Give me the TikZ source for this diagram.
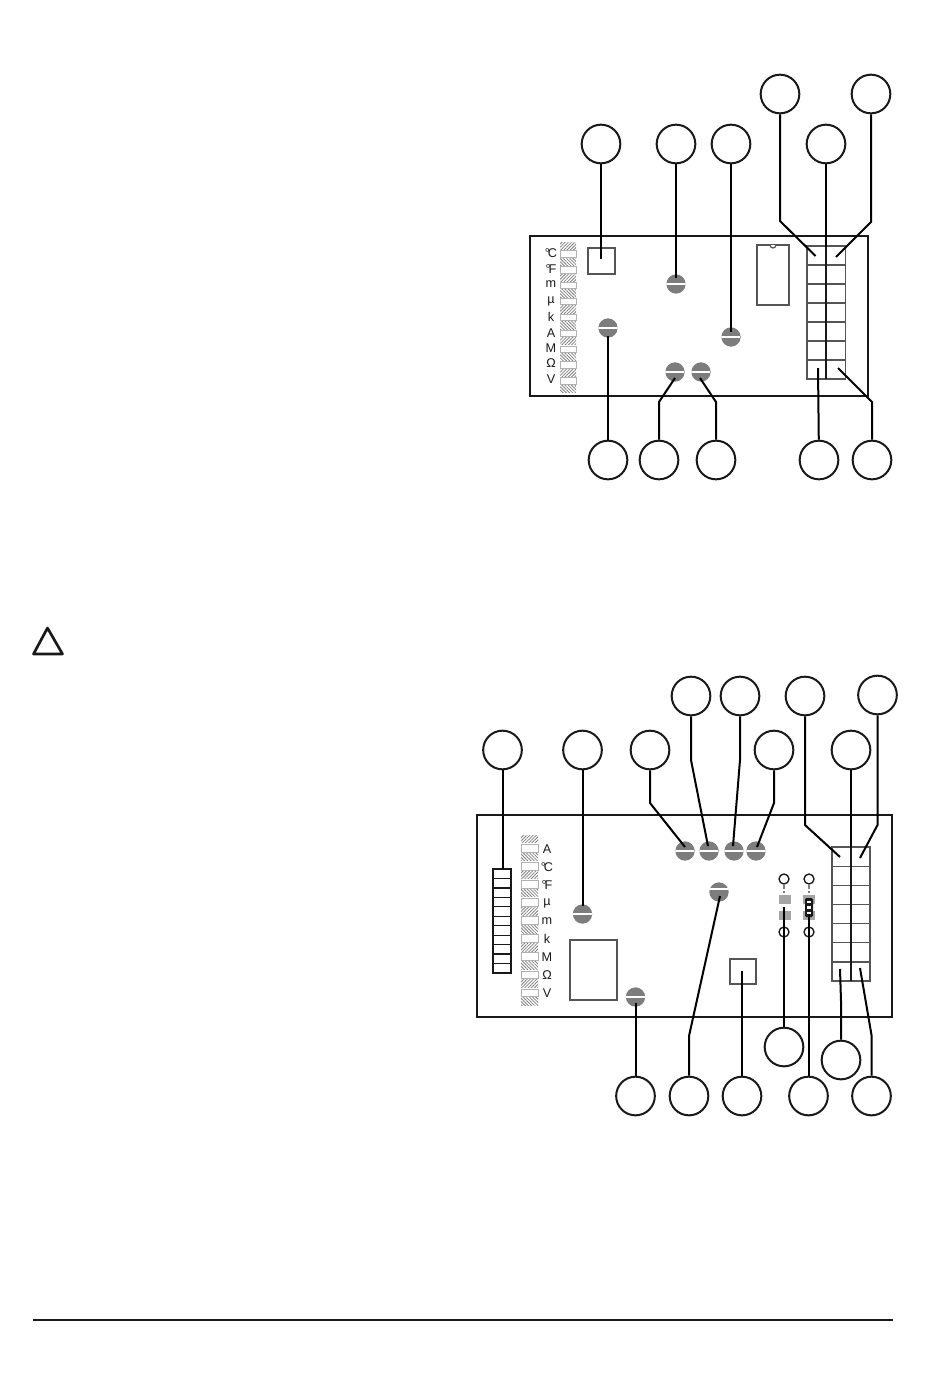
\documentclass[tikz,border=0pt]{standalone}
\usepackage{fontspec}
\setmainfont{Liberation Sans}
\usetikzlibrary{calc}
\usetikzlibrary{patterns.meta}
\definecolor{screwgray}{RGB}{125, 125, 125}
\definecolor{pad1}{RGB}{165, 165, 165}
\definecolor{grid1}{RGB}{85, 85, 85}
\definecolor{ink1}{RGB}{25, 25, 25}
\tikzset{
  callout/.style={circle,draw=ink1,fill=white,line width=1.5pt,minimum size=29pt,inner sep=0pt},
  screw/.style={circle,fill=screwgray,minimum size=14.5pt,inner sep=0pt,
    path picture={\draw[white,line width=1.3pt] ([yshift=#1]path picture bounding box.west)
      -- ([yshift=#1]path picture bounding box.east);}},
  screw/.default=0pt,
  unit/.style={inner sep=0pt,text=ink1,font=\fontsize{9.5}{9.5}\selectfont},
  lead/.style={draw=black,line width=1.5pt},
  board/.style={draw=ink1,line width=1.3pt},
  part/.style={draw=grid1,line width=.9pt},
  cell/.style={draw=grid1,line width=.9pt},
  midline/.style={draw=ink1,line width=1.1pt},
  blank/.style={draw=black!30,fill=white,line width=.5pt},
  hatcha/.style={pattern={Lines[angle=45,distance=1.7pt,line width=.6pt]},pattern color=black!50},
  hatchb/.style={pattern={Lines[angle=-45,distance=1.7pt,line width=.6pt]},pattern color=black!50},
  ring/.style={circle,draw=ink1,fill=white,line width=1pt,minimum size=7.5pt,inner sep=0pt},
}
\begin{document}
\begin{tikzpicture}[x=.75pt,y=-.75pt,line width=1pt]
  \useasboundingbox (0,0) rectangle (950,1378);
  % warning sign and foot rule
  \draw[draw=ink1,line width=2pt,line join=round] (47.5,628) -- (33.5,654) -- (62.5,654) -- cycle;
  \coordinate (ruleL) at (33,1320);
  \coordinate (ruleR) at (893,1320);
  \draw[draw=ink1,line width=1.3pt] (ruleL) -- (ruleR);

  % upper board
  \draw[board] (530,236) rectangle (868,396);
  \draw[part] (588,248) rectangle (615,274);
  \draw[part] (757,245) rectangle (789,305);
  \draw[part,fill=white] (770,245) arc (180:0:3 and 3);
  \foreach \i in {0,2,...,8}
    \path[hatcha] (560,242+15.9*\i) rectangle (576,249.5+15.9*\i);
  \foreach \i in {1,3,...,9}
    \path[hatchb] (560,242+15.9*\i) rectangle (576,249.5+15.9*\i);
  \foreach \i in {0,...,8}
    \draw[blank] (560,250.5+15.9*\i) rectangle (576,257+15.9*\i);
  \foreach \txt/\y [count=\i] in {°\kern-1.5pt C/253,°\kern-1.5pt F/269,m/284,µ/301,k/317,A/333,M/348,Ω/363,V/379}
    \node[unit] (ua\i) at (551,\y) {\txt};
  \foreach \i in {0,...,6} {
    \draw[cell] (807,246+19*\i) rectangle (826,265+19*\i);
    \draw[cell] (826,246+19*\i) rectangle (845.5,265+19*\i);
  }
  \draw[midline] (826,246) -- (826,379);
  \node[screw] (sa1) at (676,284) {};
  \node[screw] (sa2) at (731,337) {};
  \node[screw] (sa3) at (608,328) {};
  \node[screw] (sa4) at (675,372) {};
  \node[screw] (sa5) at (701,372) {};

  \node[callout] (ca1) at (780,94) {};
  \node[callout] (ca2) at (871,94) {};
  \node[callout] (ca3) at (601,144) {};
  \node[callout] (ca4) at (676,144) {};
  \node[callout] (ca5) at (731,144) {};
  \node[callout] (ca6) at (826,144) {};
  \node[callout] (ca7) at (608,460) {};
  \node[callout] (ca8) at (659,460) {};
  \node[callout] (ca9) at (716,460) {};
  \node[callout] (ca10) at (819,460) {};
  \node[callout] (ca11) at (872,460) {};

  \foreach \name/\x/\y in {ea1/815.5/256,va1/780/221,ea2/836/257,va2/871/222,ea3/601/259,ea4/676/278,ea5/731/332,
      ea6/826/247,ea7/608/336,ea8/675/378,va8/659/402,ea9/700/378,va9/716/402,ea10/818/368,ea11/838/368,va11/872/402}
    \coordinate (\name) at (\x,\y);
  \foreach \from/\to in {ca3/ea3, ca4/ea4, ca5/ea5, ca6/ea6, ca7/ea7, ca10/ea10}
    \draw[lead] (\from) -- (\to);
  \foreach \from/\via/\to in {ca1/va1/ea1, ca2/va2/ea2, ca8/va8/ea8, ca9/va9/ea9, ca11/va11/ea11}
    \draw[lead] (\from) -- (\via) -- (\to);

  % lower board
  \draw[board] (477,815) rectangle (892,1017);
  \draw[part] (570,940) rectangle (617,1000);
  \draw[part] (730,959) rectangle (756,984);
  \foreach \i in {0,...,10}
    \draw[draw=ink1,line width=.9pt] (493,869+9.45*\i) rectangle (511,878.45+9.45*\i);
  \foreach \i in {0,2,...,8}
    \path[hatcha] (521,835+18.05*\i) rectangle (538,842.8+18.05*\i);
  \foreach \i in {1,3,...,9}
    \path[hatchb] (521,835+18.05*\i) rectangle (538,842.8+18.05*\i);
  \foreach \i in {0,...,8}
    \draw[blank] (521,844.5+18.05*\i) rectangle (538,852+18.05*\i);
  \foreach \txt/\y [count=\i] in {A/849,°\kern-1.5pt C/867,°\kern-1.5pt F/885,µ/903,m/921,k/939,M/957,Ω/975,V/993}
    \node[unit] (ub\i) at (547,\y) {\txt};
  \foreach \i in {0,...,6} {
    \draw[cell] (832,847+19.15*\i) rectangle (851,866.15+19.15*\i);
    \draw[cell] (851,847+19.15*\i) rectangle (870,866.15+19.15*\i);
  }
  \draw[midline] (851,847) -- (851,981);
  \node[screw] (sb1) at (582.5,914) {};
  \node[screw] (sb2) at (635.5,997) {};
  \node[screw] (sb3) at (685,851) {};
  \node[screw] (sb4) at (709,851) {};
  \node[screw] (sb5) at (734,851) {};
  \node[screw] (sb6) at (756,851) {};
  \node[screw=2.5pt] (sb7) at (719,892) {};

  % jumpers
  \fill[pad1] (778.5,895) rectangle (791,904);
  \fill[pad1] (778.5,911) rectangle (791,919.5);
  \fill[pad1] (803,895) rectangle (815,904);
  \fill[pad1] (803,911) rectangle (815,919.5);
  \fill[ink1,rounded corners=1pt] (805,898) rectangle (813,917);
  \foreach \y in {902,907.5,913}
    \fill[white] (807,\y-1.4) rectangle (811,\y+1.4);
  \node[ring] (rb1) at (784,879) {};
  \node[ring] (rb2) at (809,879) {};
  \node[ring] (rb3) at (784,932) {};
  \node[ring] (rb4) at (809,932) {};
  \coordinate (pb1) at (784,893);
  \coordinate (pb2) at (809,893);
  \foreach \from/\to in {rb1/pb1, rb2/pb2}
    \draw[draw=black!50,densely dashed,line width=.8pt] (\from) -- (\to);

  \node[callout] (cb1) at (691,696) {};
  \node[callout] (cb2) at (740,696) {};
  \node[callout] (cb3) at (805,696) {};
  \node[callout] (cb4) at (877.5,695) {};
  \node[callout] (cb5) at (502.5,750) {};
  \node[callout] (cb6) at (582.5,750) {};
  \node[callout] (cb7) at (650,750) {};
  \node[callout] (cb8) at (774,750) {};
  \node[callout] (cb9) at (851,750) {};
  \node[callout] (cb10) at (784,1047) {};
  \node[callout] (cb11) at (841,1060) {};
  \node[callout] (cb12) at (635.5,1096) {};
  \node[callout] (cb13) at (689,1096) {};
  \node[callout] (cb14) at (742,1096) {};
  \node[callout] (cb15) at (808.5,1096) {};
  \node[callout] (cb16) at (871.5,1096) {};

  \foreach \name/\x/\y in {eb1/708/846,vb1/691/760,eb2/733/846,vb2/740/760,eb3/840/857,vb3/805/825,eb4/860/858,vb4/877.5/825,
      eb5/502.5/869,eb6/582.5/906,eb7/685/847,vb7/650/803,eb8/757/847,vb8/774/803,eb9/851/847,eb10/784/907,eb11/840/969,vb11/841/1001,
      eb12/635.5/1003,eb13/720/896,vb13/689/1036,eb14/742/971,eb15/808.5/914,eb16/860/968,vb16/871.5/1035}
    \coordinate (\name) at (\x,\y);
  \foreach \from/\to in {cb5/eb5, cb6/eb6, cb9/eb9, cb10/eb10, cb12/eb12, cb14/eb14, cb15/eb15}
    \draw[lead] (\from) -- (\to);
  \foreach \from/\via/\to in {cb1/vb1/eb1, cb2/vb2/eb2, cb3/vb3/eb3, cb4/vb4/eb4, cb7/vb7/eb7,
      cb8/vb8/eb8, cb11/vb11/eb11, cb13/vb13/eb13, cb16/vb16/eb16}
    \draw[lead] (\from) -- (\via) -- (\to);
\end{tikzpicture}
\end{document}
